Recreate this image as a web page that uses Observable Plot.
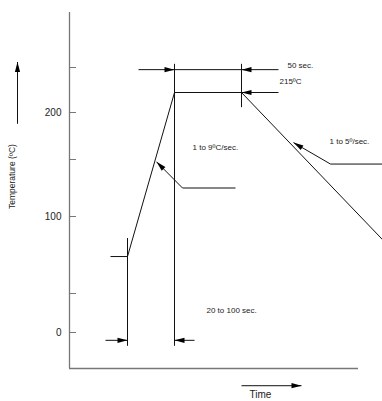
<!DOCTYPE html>
<html><head><meta charset="utf-8">
<script src="https://cdn.jsdelivr.net/npm/d3@7"></script>
<script src="https://cdn.jsdelivr.net/npm/@observablehq/plot@0.6"></script>
<style>html,body{margin:0;padding:0;background:#fff} #chart svg{display:block}</style>
</head><body><div id="chart"></div>
<script>
// Reflow temperature profile (schematic, time in arbitrary units, temperature in ºC)
const profileTime = [58, 105, 172, 313];
const profileTemp = [74, 215, 215, 85];

const tempTicks = [0, 50, 100, 150, 200, 250];
const tempTickLabels = ["0", "100", "200"];
const tempLabelValues = [0, 100, 200];

// guide / dimension lines (time1, temp1, time2, temp2)
const guideT1 = [41, 58, 105, 172, 69, 172, 36, 105, 113, 113, 261, 261, 172, -52];
const guideY1 = [74, 86, 254, 254, 247, 215, -10, -10, 125, 125, 146, 146, -68, 188];
const guideT2 = [58, 58, 105, 172, 209, 209, 58, 125, 166, 87, 313, 224, 232, -52];
const guideY2 = [74, -17, -17, 204, 247, 215, -10, -10, 125, 148, 146, 168, -68, 256];

// arrow heads (tip time, tip temp, direction in degrees)
const headT = [105, 172, 172, 58, 105, 87, 224, 232, -52];
const headY = [247, 247, 215, -10, -10, 148, 168, -68, 256];
const headDir = [90, -90, -90, 90, -90, -45, -59, 90, 0];

// annotations
const noteText = ["50 sec.", "215ºC", "1 to 9ºC/sec.", "1 to 5º/sec.", "20 to 100 sec."];
const noteT = [218, 210, 123, 260, 137];
const noteY = [252, 230, 163, 169, 28];
const timeTitle = "Time";
const axisTitle = "Temperature (ºC)";

const profile = profileTime.map((t, i) => ({t, T: profileTemp[i]}));
const guides = guideT1.map((t1, i) => ({t1, y1: guideY1[i], t2: guideT2[i], y2: guideY2[i]}));
const heads = headT.map((t, i) => ({t, T: headY[i], dir: headDir[i]}));
const notes = noteText.map((text, i) => ({text, t: noteT[i], T: noteY[i]}));
const tickLabels = tempLabelValues.map((v, i) => ({v, text: tempTickLabels[i]}));

// the schematic's temperature axis is not uniform: piecewise-linear mapping
const tempWarp = d3.scaleLinear()
  .domain([-46, 0, 50, 100, 150, 200, 215, 250, 310])
  .range([368, 332, 293, 216, 159, 112, 92, 67, 12]);

const chart = Plot.plot({
  width: 382,
  height: 401,
  marginLeft: 69,
  marginRight: 24,
  marginTop: 12,
  marginBottom: 33,
  style: {fontFamily: "'Liberation Sans', Arial, sans-serif", fontSize: "10px", color: "#222", background: "#fff"},
  x: {domain: [0, 289], range: [69, 358], axis: null},
  y: {type: "linear", transform: tempWarp, domain: [0, 401], range: [0, 401], axis: null},
  marks: [
    // axes lines
    Plot.ruleX([0], {x: d => d, y1: -46, y2: 310, stroke: "#777", strokeWidth: 1.3}),
    Plot.ruleY([-46], {y: d => d, x1: 0, x2: 289, stroke: "#777", strokeWidth: 1.3}),
    Plot.ruleY(tempTicks, {y: d => d, x1: 0, x2: 7, stroke: "#777", strokeWidth: 1}),
    Plot.text(tickLabels, {x: 0, y: "v", text: "text", dx: -8, textAnchor: "end", fontSize: 10, fill: "#222"}),
    Plot.text([axisTitle], {x: -57, y: 135, text: d => d, rotate: -90, fontSize: 8.5, fill: "#222"}),
    // guides
    Plot.link(guides, {x1: "t1", y1: "y1", x2: "t2", y2: "y2", stroke: "#111", strokeWidth: 1}),
    // profile
    Plot.line(profile, {x: "t", y: "T", stroke: "#111", strokeWidth: 1}),
    // arrow heads
    Plot.vector(heads, {x: "t", y: "T", rotate: "dir", length: 10, shape: "spike", anchor: "end", r: 2.6, fill: "#000", stroke: "none"}),
    // notes
    Plot.text(notes, {x: "t", y: "T", text: "text", textAnchor: "start", fontSize: 8, fill: "#222"}),
    Plot.text([timeTitle], {x: 180, y: -80, text: d => d, textAnchor: "start", fontSize: 10, fill: "#222"})
  ]
});
document.getElementById("chart").append(chart);
</script>
</body></html>
